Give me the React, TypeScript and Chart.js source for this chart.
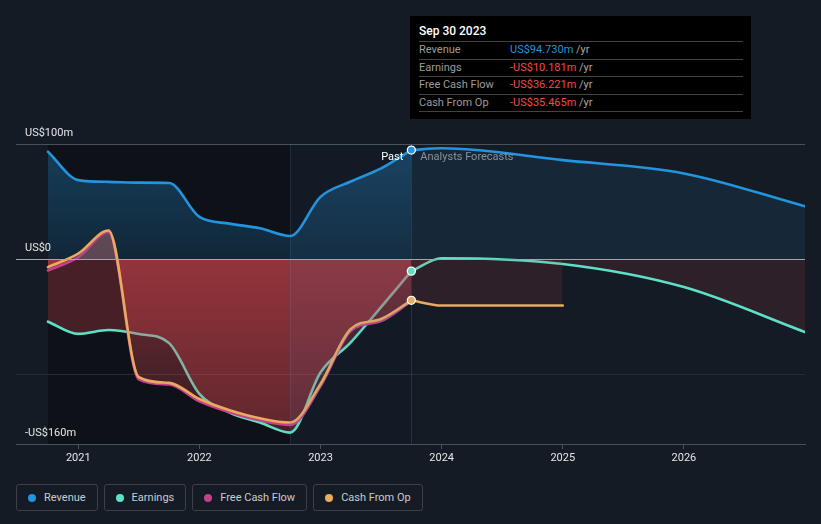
import React, { useEffect, useRef } from "react";
import { Chart, registerables } from "chart.js";

Chart.register(...registerables);

// ---- data (US$ millions, x = decimal year) ----
const pastDates = [2020.75, 2021.0, 2021.25, 2021.5, 2021.75, 2022.0, 2022.25, 2022.5, 2022.75, 2023.0, 2023.25, 2023.5, 2023.75];
const revenuePast = [93.3, 68.7, 67.2, 66.5, 66.2, 36.8, 31, 27, 20.3, 54.2, 67.5, 78.8, 94.73];
const earningsPast = [-54, -64.6, -61.2, -64.6, -72.6, -116.5, -132.7, -141.4, -150.1, -98, -71.9, -41.4, -10.181];
const fcfPast = [-9.6, 2, 23.8, -104, -108.5, -123, -132.5, -139.5, -143.5, -110, -62, -53.5, -36.221];
const cfoPast = [-6.7, 5, 25, -102, -107, -121, -130.7, -137.7, -141.4, -108, -60.3, -51.6, -35.465];

const forecastDates = [2023.75, 2024.0, 2025.0, 2026.0, 2027.0];
const revenueForecast = [94.73, 96.3, 86, 74.5, 46];
const earningsForecast = [-10.181, 1, -4, -24, -63];
const cfoForecastDates = [2023.75, 2024.0, 2025.0];
const cfoForecast = [-35.465, -40, -40];

const yearTicks = [2021, 2022, 2023, 2024, 2025, 2026];
const yTicks = [-160, -100, 0, 100];
const yTickLabels: Record<number, string> = { [-160]: "-US$160m", [0]: "US$0", [100]: "US$100m" };

const xMin = 2020.486;
const xMax = 2027.0;
const lastYearStart = 2022.75;
const nowDate = 2023.75;

const tooltipTitle = "Sep 30 2023";
const tooltipRows = [
  { label: "Revenue", value: "US$94.730m", color: "#2394df" },
  { label: "Earnings", value: "-US$10.181m", color: "#f04b4b" },
  { label: "Free Cash Flow", value: "-US$36.221m", color: "#f04b4b" },
  { label: "Cash From Op", value: "-US$35.465m", color: "#f04b4b" },
];

const BLUE = "#2394df";
const TEAL = "#5ee0c6";
const MAGENTA = "#c4408a";
const ORANGE = "#e9ab5e";

const legendItems = [
  { label: "Revenue", color: BLUE },
  { label: "Earnings", color: TEAL },
  { label: "Free Cash Flow", color: MAGENTA },
  { label: "Cash From Op", color: ORANGE },
];

const pts = (xs: number[], ys: number[]) => xs.map((x, i) => ({ x, y: ys[i] }));

function vGrad(ctx: any, fromV: number, toV: number, c0: string, c1: string, fallback: string) {
  const chart = ctx.chart;
  const ys = chart.scales && chart.scales.y;
  if (!chart.chartArea || !ys) return fallback;
  const g = chart.ctx.createLinearGradient(0, ys.getPixelForValue(fromV), 0, ys.getPixelForValue(toV));
  g.addColorStop(0, c0);
  g.addColorStop(1, c1);
  return g;
}

const FONT = "Roboto, 'Noto Sans', sans-serif";

export default function App() {
  const ref = useRef<HTMLCanvasElement>(null);

  useEffect(() => {
    document.body.style.margin = "0";
    const canvas = ref.current;
    if (!canvas) return;

    const lineBase = {
      cubicInterpolationMode: "monotone" as const,
      pointRadius: 0,
      pointHoverRadius: 0,
      borderWidth: 2.6,
      borderCapStyle: "round" as const,
      borderJoinStyle: "round" as const,
    };

    const markerIndex = 7;

    const decor = {
      id: "decor",
      beforeDraw(chart: any) {
        const { ctx, chartArea: a, scales } = chart;
        const x = scales.x;
        ctx.save();
        ctx.fillStyle = "#0e1218";
        const x0 = x.getPixelForValue(pastDates[0]);
        const x1 = x.getPixelForValue(nowDate);
        ctx.fillRect(x0, a.top, x1 - x0, a.bottom - a.top);
        ctx.restore();
      },
      beforeDatasetDraw(chart: any, args: any) {
        if (args.index !== markerIndex) return;
        const { ctx, chartArea: a, scales } = chart;
        const x = scales.x;
        const y = scales.y;
        const hx0 = x.getPixelForValue(lastYearStart);
        const hx1 = x.getPixelForValue(nowDate);
        ctx.save();
        // last-year highlight
        ctx.fillStyle = "rgba(70,130,190,0.085)";
        ctx.fillRect(hx0, a.top, hx1 - hx0, a.bottom - a.top);
        // vertical separators
        ctx.strokeStyle = "rgba(110,150,190,0.16)";
        ctx.lineWidth = 1;
        ctx.beginPath();
        ctx.moveTo(Math.round(hx0) + 0.5, a.top);
        ctx.lineTo(Math.round(hx0) + 0.5, a.bottom);
        ctx.stroke();
        ctx.strokeStyle = "rgba(110,150,190,0.22)";
        ctx.beginPath();
        ctx.moveTo(Math.round(hx1) + 0.5, a.top);
        ctx.lineTo(Math.round(hx1) + 0.5, a.bottom);
        ctx.stroke();
        // zero line on top of fills
        const zy = Math.round(y.getPixelForValue(0)) + 0.5;
        ctx.strokeStyle = "#a3a6ab";
        ctx.lineWidth = 1.2;
        ctx.beginPath();
        ctx.moveTo(a.left, zy);
        ctx.lineTo(a.right, zy);
        ctx.stroke();
        // y labels
        ctx.font = `11px ${FONT}`;
        ctx.fillStyle = "#e4e6e8";
        ctx.textAlign = "left";
        ctx.textBaseline = "alphabetic";
        yTicks.forEach((v) => {
          const t = yTickLabels[v];
          if (t) ctx.fillText(t, a.left + 9, y.getPixelForValue(v) - 8);
        });
        // Past / Analysts Forecasts
        const ly = y.getPixelForValue(100) + 16;
        ctx.fillStyle = "#ffffff";
        ctx.textAlign = "right";
        ctx.fillText("Past", hx1 - 8, ly);
        ctx.fillStyle = "#8d9298";
        ctx.textAlign = "left";
        ctx.fillText("Analysts Forecasts", hx1 + 9, ly);
        ctx.restore();
      },
    };

    const chart = new Chart(canvas, {
      type: "line",
      data: {
        datasets: [
          {
            ...lineBase,
            label: "Revenue",
            data: pts(pastDates, revenuePast),
            borderColor: BLUE,
            fill: { target: "origin" },
            backgroundColor: (c: any) => vGrad(c, 100, 0, "rgba(35,148,223,0.34)", "rgba(35,148,223,0.16)", "rgba(35,148,223,0.25)"),
            order: 6,
          },
          {
            ...lineBase,
            label: "Revenue forecast",
            data: pts(forecastDates, revenueForecast),
            borderColor: BLUE,
            fill: { target: "origin" },
            backgroundColor: "rgba(35,148,223,0.1)",
            order: 6,
          },
          {
            ...lineBase,
            label: "Earnings",
            data: pts(pastDates, earningsPast),
            borderColor: TEAL,
            fill: { target: "origin", above: "rgba(0,0,0,0)" },
            backgroundColor: "rgba(224,72,80,0.27)",
            order: 5,
          },
          {
            ...lineBase,
            label: "Earnings forecast",
            data: pts(forecastDates, earningsForecast),
            borderColor: TEAL,
            fill: { target: "origin", above: "rgba(0,0,0,0)" },
            backgroundColor: "rgba(224,72,80,0.12)",
            order: 5,
          },
          {
            ...lineBase,
            label: "Free Cash Flow",
            data: pts(pastDates, fcfPast),
            borderColor: MAGENTA,
            fill: { target: "origin", above: "rgba(226,128,128,0.36)" },
            backgroundColor: (c: any) => vGrad(c, 0, -160, "rgba(224,72,80,0.5)", "rgba(224,72,80,0.14)", "rgba(224,72,80,0.3)"),
            order: 4,
          },
          {
            ...lineBase,
            label: "Cash From Op",
            data: pts(pastDates, cfoPast),
            borderColor: ORANGE,
            fill: false,
            order: 3,
          },
          {
            ...lineBase,
            label: "Cash From Op forecast",
            data: pts(cfoForecastDates, cfoForecast),
            borderColor: ORANGE,
            fill: { target: "origin", above: "rgba(0,0,0,0)" },
            backgroundColor: "rgba(224,72,80,0.12)",
            order: 3,
          },
          {
            label: "markers",
            data: [
              { x: nowDate, y: revenuePast[revenuePast.length - 1] },
              { x: nowDate, y: earningsPast[earningsPast.length - 1] },
              { x: nowDate, y: cfoPast[cfoPast.length - 1] },
            ],
            showLine: false,
            pointRadius: 4,
            pointHoverRadius: 4,
            pointBorderWidth: 1.3,
            pointBorderColor: "#ffffff",
            pointBackgroundColor: [BLUE, TEAL, ORANGE],
            order: 0,
          },
        ] as any,
      },
      options: {
        responsive: false,
        animation: false,
        devicePixelRatio: 1,
        events: [],
        layout: { padding: { left: 16, right: 16, top: 144, bottom: 0 } },
        plugins: { legend: { display: false }, tooltip: { enabled: false } },
        scales: {
          x: {
            type: "linear",
            min: xMin,
            max: xMax,
            afterBuildTicks: (s: any) => {
              s.ticks = yearTicks.map((v) => ({ value: v }));
            },
            afterFit: (s: any) => {
              s.height = 26;
            },
            grid: { drawOnChartArea: false, drawTicks: true, tickLength: 5, color: "#4a5059" },
            border: { display: true, color: "#4a5059" },
            ticks: {
              color: "#e4e6e8",
              font: { family: FONT, size: 11 },
              padding: 3,
              maxRotation: 0,
              autoSkip: false,
              callback: (v: any) => String(v),
            },
          },
          y: {
            type: "linear",
            min: -160,
            max: 100,
            afterBuildTicks: (s: any) => {
              s.ticks = yTicks.map((v) => ({ value: v }));
            },
            afterFit: (s: any) => {
              s.width = 0;
            },
            ticks: { display: false },
            border: { display: false },
            grid: {
              drawTicks: false,
              color: (c: any) => (c.tick && c.tick.value === 0 ? "#a3a6ab" : c.tick && c.tick.value === -100 ? "#262c35" : "#4a5059"),
              lineWidth: 1,
            },
          },
        },
      } as any,
      plugins: [decor],
    });

    return () => chart.destroy();
  }, []);

  return (
    <div
      style={{
        position: "absolute",
        left: 0,
        top: 0,
        width: 821,
        height: 524,
        background: "#151b24",
        overflow: "hidden",
        fontFamily: FONT,
      }}
    >
      <canvas ref={ref} width={821} height={470} style={{ position: "absolute", left: 0, top: 0, width: 821, height: 470 }} />

      <div style={{ position: "absolute", left: 410, top: 16, width: 341, height: 103, background: "#000" }}>
        <div style={{ position: "absolute", left: 9, top: 8, height: 14, lineHeight: "14px", fontSize: 12, fontWeight: 500, color: "#fff", whiteSpace: "nowrap" }}>
          {tooltipTitle}
        </div>
        {[0, 1, 2, 3, 4].map((i) => (
          <div key={"l" + i} style={{ position: "absolute", left: 9, top: 25 + i * 17.5, width: 324, height: 1, background: "#434343" }} />
        ))}
        {tooltipRows.map((r, i) => (
          <div key={r.label} style={{ position: "absolute", left: 0, top: 26 + i * 17.5, height: 16.5, lineHeight: "16.5px", width: 341, fontSize: 11, whiteSpace: "nowrap" }}>
            <span style={{ position: "absolute", left: 9, color: "#9c9c9c" }}>{r.label}</span>
            <span style={{ position: "absolute", left: 100 }}>
              <span style={{ color: r.color }}>{r.value}</span>
              <span style={{ color: "#a8a8a8" }}> /yr</span>
            </span>
          </div>
        ))}
      </div>

      <div style={{ position: "absolute", left: 16, top: 484, display: "flex", gap: 6 }}>
        {legendItems.map((it) => (
          <div
            key={it.label}
            style={{
              boxSizing: "border-box",
              height: 27,
              border: "1px solid #3a3f48",
              borderRadius: 3,
              padding: "0 11px 0 11px",
              display: "flex",
              alignItems: "center",
              fontSize: 11,
              color: "#c9cbce",
              whiteSpace: "nowrap",
            }}
          >
            <span style={{ width: 8, height: 8, borderRadius: "50%", background: it.color, marginRight: 8, display: "inline-block" }} />
            <span>{it.label}</span>
          </div>
        ))}
      </div>
    </div>
  );
}
